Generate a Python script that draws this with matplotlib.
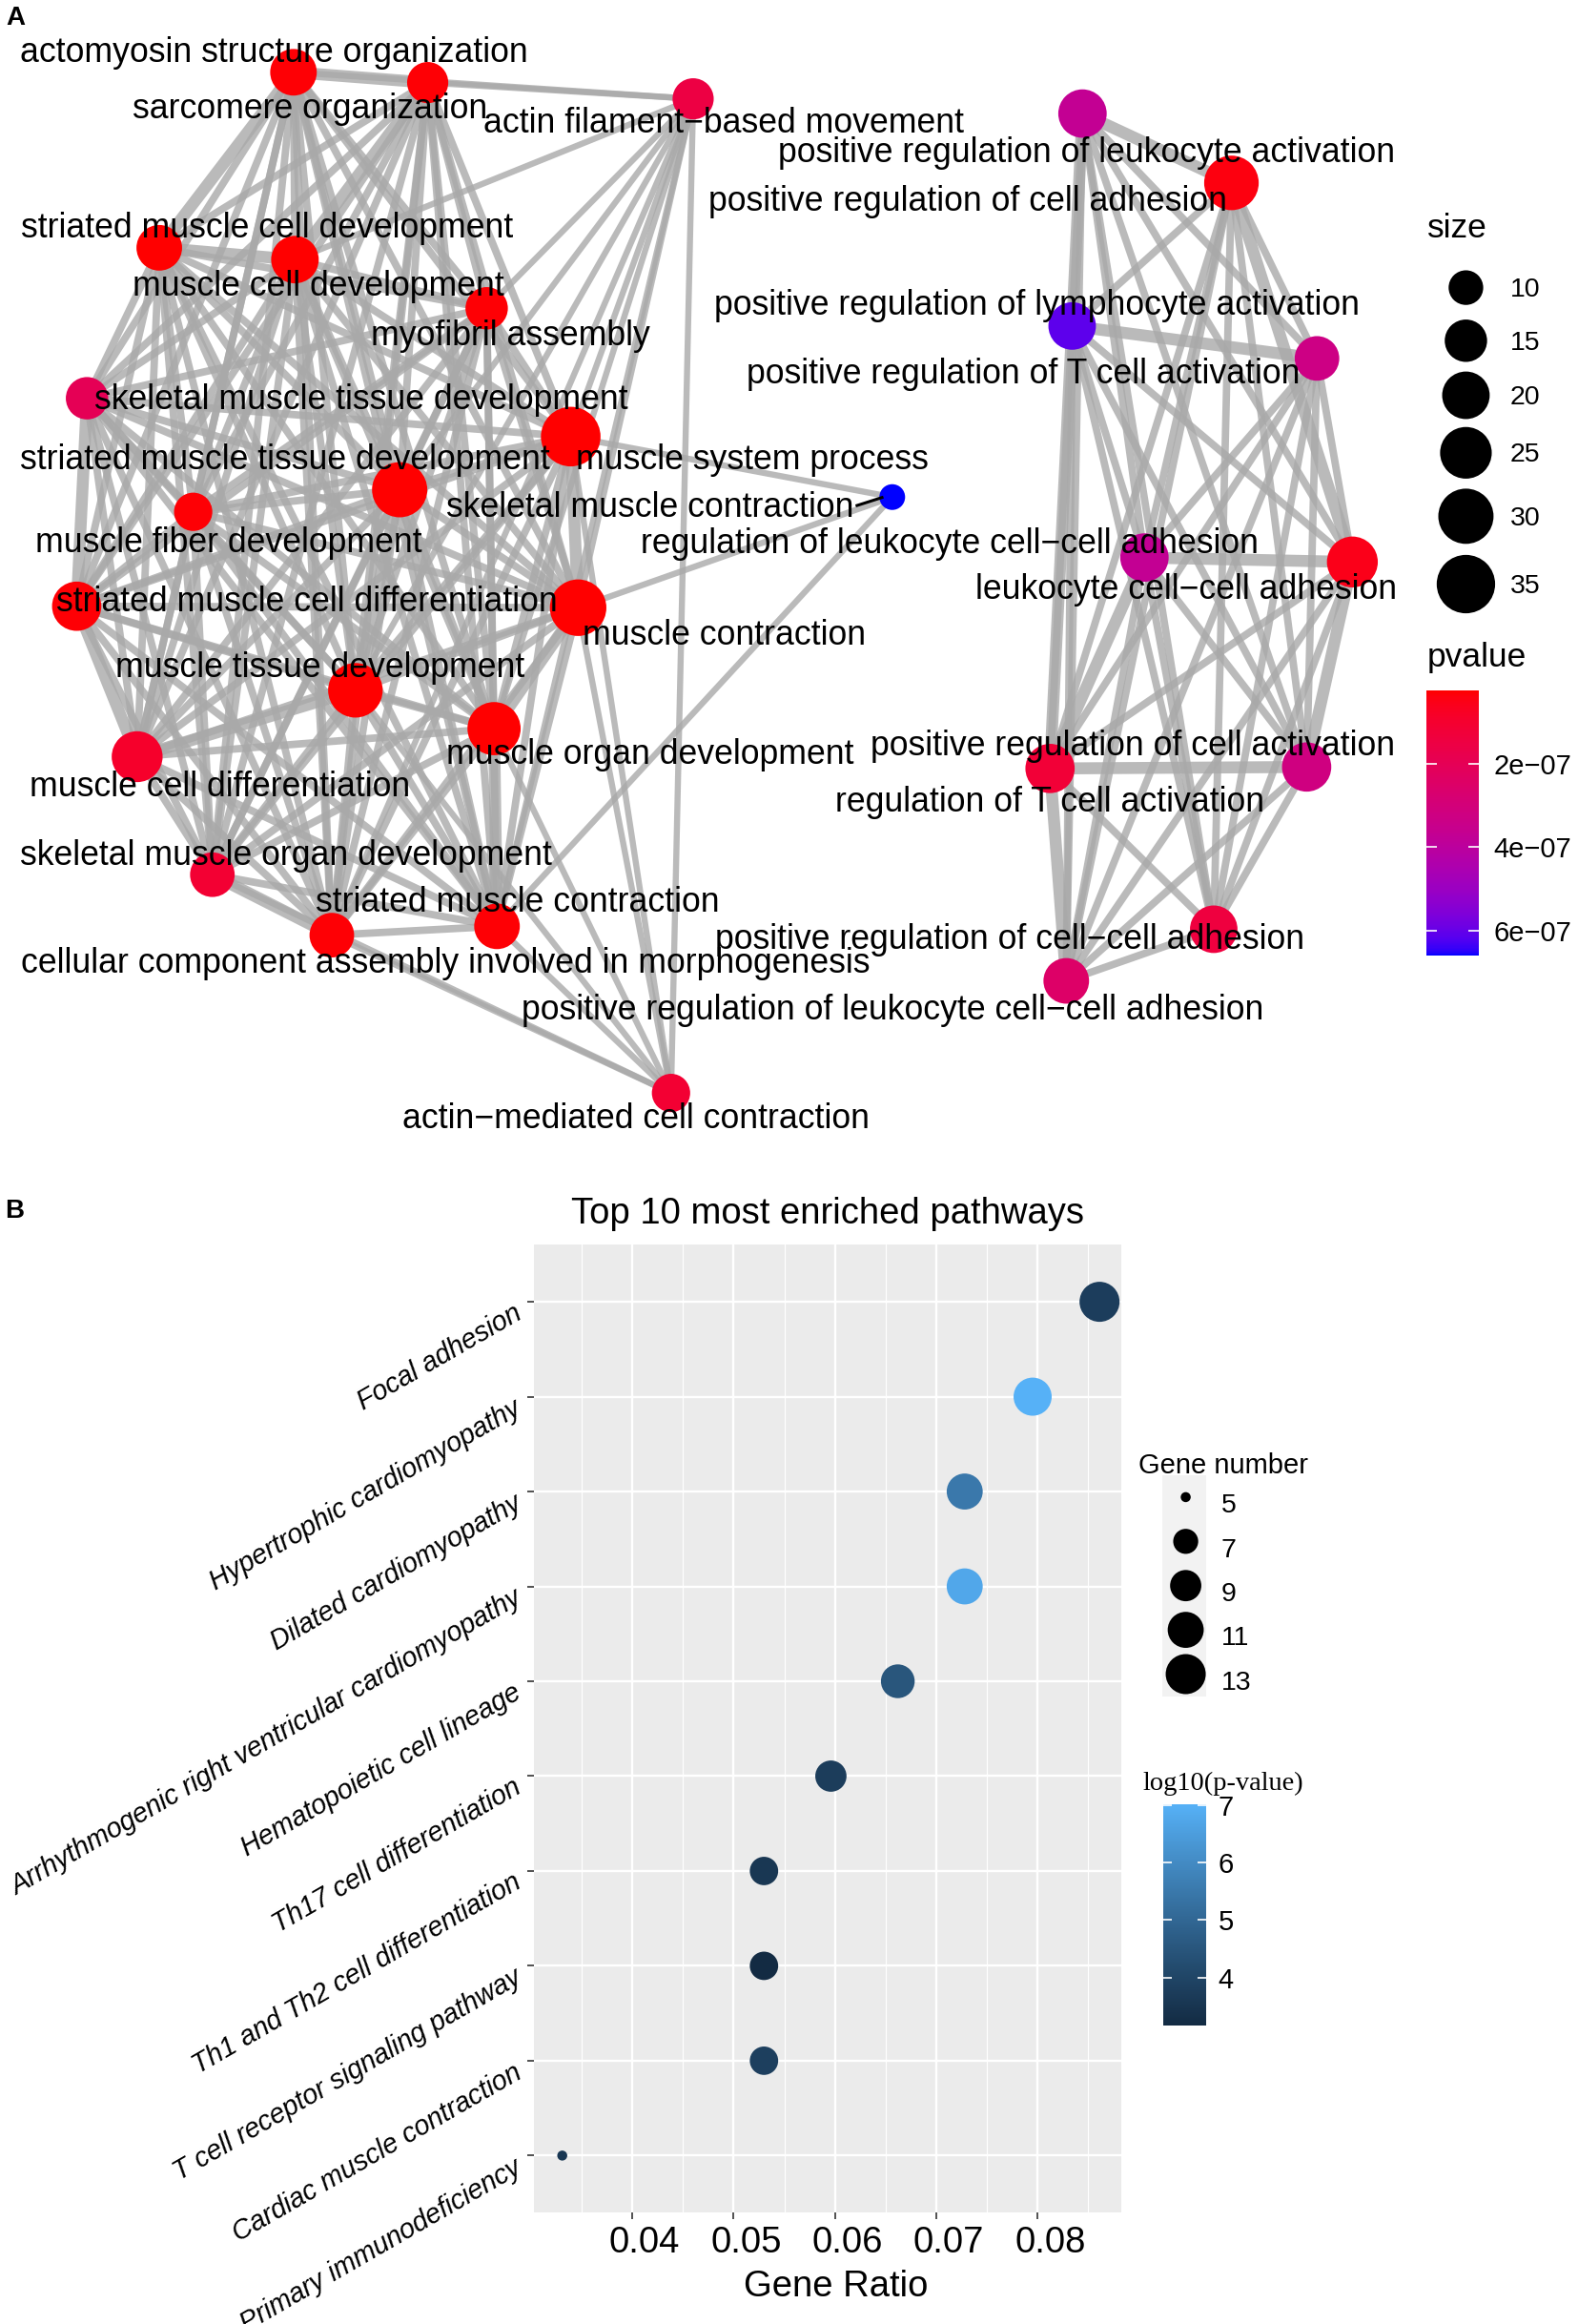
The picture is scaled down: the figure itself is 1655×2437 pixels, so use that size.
import numpy as np
import matplotlib
matplotlib.use("Agg")
import matplotlib.pyplot as plt
from matplotlib.colors import ListedColormap, Normalize
from matplotlib.cm import ScalarMappable
from matplotlib.collections import LineCollection
from matplotlib.patches import Rectangle
from matplotlib.ticker import MultipleLocator
from matplotlib.transforms import ScaledTranslation

plt.rcParams['font.family'] = ['Liberation Sans', 'DejaVu Sans']

# ---------------- Panel A data (enrichment map) ----------------
go_terms = [
    "actomyosin structure organization", "sarcomere organization",
    "actin filament\u2212based movement", "striated muscle cell development",
    "muscle cell development", "myofibril assembly",
    "skeletal muscle tissue development", "muscle system process",
    "striated muscle tissue development", "muscle fiber development",
    "skeletal muscle contraction", "striated muscle cell differentiation",
    "muscle contraction", "muscle tissue development",
    "muscle organ development", "muscle cell differentiation",
    "skeletal muscle organ development", "striated muscle contraction",
    "cellular component assembly involved in morphogenesis",
    "actin\u2212mediated cell contraction",
    "positive regulation of leukocyte activation",
    "positive regulation of cell adhesion",
    "positive regulation of lymphocyte activation",
    "positive regulation of T cell activation",
    "regulation of leukocyte cell\u2212cell adhesion",
    "leukocyte cell\u2212cell adhesion",
    "positive regulation of cell activation",
    "regulation of T cell activation",
    "positive regulation of cell\u2212cell adhesion",
    "positive regulation of leukocyte cell\u2212cell adhesion",
]
# layout coordinates of the nodes
node_x = [199, 290, 470, 108, 200, 330, 59, 387, 271, 131, 605, 52, 392, 241, 335,
          93, 144, 337, 225, 455, 734, 835, 727, 893, 776, 917, 886, 712, 823, 723]
node_y = [49, 56, 67, 168, 176, 209, 270, 296, 332, 347, 337, 411, 412, 468, 494,
          513, 593, 628, 634, 741, 77, 124, 221, 243, 378, 381, 520, 521, 630, 665]
gene_count = [19, 14, 14, 18, 20, 15, 15, 37, 30, 12, 8, 22, 32, 29, 27,
              24, 17, 18, 17, 12, 21, 29, 20, 17, 21, 24, 22, 22, 20, 18]
pvalues = [3e-8, 3e-8, 1.5e-7, 2.5e-8, 2.5e-8, 3e-8, 2e-7, 2.5e-8, 2.5e-8, 3e-8,
           6.6e-7, 3e-8, 2.5e-8, 2.5e-8, 2.5e-8, 9e-8, 1.1e-7, 3e-8, 3e-8, 1.1e-7,
           3.7e-7, 4e-8, 6.1e-7, 3.3e-7, 3.7e-7, 5.5e-8, 3.2e-7, 1.2e-7, 1.4e-7, 2.5e-7]
# repelled label positions
label_x = [186, 210, 491, 181, 216, 346, 245, 510, 193, 155, 441, 208, 491, 217, 441,
           149, 194, 351, 302, 431, 737, 656, 703, 694, 644, 804, 768, 712, 685, 605]
label_y = [36, 74, 84, 155, 194, 228, 271, 312, 312, 368, 344, 408, 431, 453, 512,
           534, 580, 612, 653, 759, 104, 137, 207, 254, 369, 400, 506, 544, 637, 685]
segment_terms = [10]   # labels connected to their node by a segment

adjacency = [
    "0: 1 2 3 4 5 6 7 8 9 11 12 13 14 15 16 17 18",
    "1: 2 3 4 5 6 7 8 9 11 12 13 14 15 16 17 18",
    "2: 4 5 7 8 12 13 14 17 18 19",
    "3: 4 5 6 7 8 9 11 12 13 14 15 16 17 18",
    "4: 5 6 7 8 9 11 12 13 14 15 16 17 18",
    "5: 6 7 8 9 11 12 13 14 15 16 17 18",
    "6: 7 8 9 11 12 13 14 15 16 17 18",
    "7: 8 9 10 11 12 13 14 15 16 17 18 19",
    "8: 9 11 12 13 14 15 16 17 18",
    "9: 11 12 13 14 15 16 17 18",
    "10: 12 17",
    "11: 12 13 14 15 16 17 18",
    "12: 13 14 15 16 17 18 19",
    "13: 14 15 16 17 18 19",
    "14: 15 16 17 18 19",
    "15: 16 17 18",
    "16: 17 18 19",
    "17: 18 19",
    "18: 19",
    "20: 21 22 23 24 25 26 27 28 29",
    "21: 22 23 24 25 26 27 28 29",
    "22: 23 24 25 26 27 28 29",
    "23: 24 25 26 27 28 29",
    "24: 25 26 27 28 29",
    "25: 26 27 28 29",
    "26: 27 28 29",
    "27: 28 29",
    "28: 29",
]
strong_edges = [(0, 1), (3, 4), (0, 3), (1, 4), (6, 11), (11, 15), (13, 15), (8, 13),
                (7, 12), (12, 14), (14, 17), (16, 18), (20, 22), (22, 27), (27, 29),
                (20, 21), (24, 25), (26, 27), (22, 23), (21, 25), (25, 26), (24, 27)]
weak_nodes = [2, 10, 19]

size_breaks = [10, 15, 20, 25, 30, 35]
pvalue_ticks = [2e-7, 4e-7, 6e-7]

# ---------------- Panel B data (KEGG dot plot) ----------------
pathways = ["Focal adhesion", "Hypertrophic cardiomyopathy", "Dilated cardiomyopathy",
            "Arrhythmogenic right ventricular cardiomyopathy", "Hematopoietic cell lineage",
            "Th17 cell differentiation", "Th1 and Th2 cell differentiation",
            "T cell receptor signaling pathway", "Cardiac muscle contraction",
            "Primary immunodeficiency"]
gene_ratio = [0.0861, 0.0795, 0.0728, 0.0728, 0.0662, 0.0596, 0.0530, 0.0530, 0.0530, 0.0331]
gene_number = [13, 12, 11, 11, 10, 9, 8, 8, 8, 5]
neglog_p = [3.76, 7.02, 5.5, 6.75, 4.5, 3.75, 3.56, 3.17, 3.83, 3.55]
ratio_ticks = [0.04, 0.05, 0.06, 0.07, 0.08]
gene_number_breaks = [5, 7, 9, 11, 13]
logp_ticks = [4, 5, 6, 7]

# ---------------- helpers ----------------
_M = np.array([[0.4124564, 0.3575761, 0.1804375],
               [0.2126729, 0.7151522, 0.0721750],
               [0.0193339, 0.1191920, 0.9503041]])
_WP = np.array([0.95047, 1.0, 1.08883])


def hex_to_lab(h):
    c = np.array([int(h[i:i + 2], 16) / 255 for i in (1, 3, 5)])
    lin = np.where(c <= 0.04045, c / 12.92, ((c + 0.055) / 1.055) ** 2.4)
    r = (_M @ lin) / _WP
    d = 6 / 29
    f = np.where(r > d ** 3, np.cbrt(r), r / (3 * d * d) + 4 / 29)
    return np.array([116 * f[1] - 16, 500 * (f[0] - f[1]), 200 * (f[1] - f[2])])


def lab_to_rgb(lab):
    L, a, b = lab
    fy = (L + 16) / 116
    f = np.array([fy + a / 500, fy, fy - b / 200])
    d = 6 / 29
    r = np.where(f > d, f ** 3, 3 * d * d * (f - 4 / 29))
    lin = np.clip(np.linalg.inv(_M) @ (r * _WP), 0, 1)
    c = np.where(lin <= 0.0031308, 12.92 * lin, 1.055 * lin ** (1 / 2.4) - 0.055)
    return np.clip(c, 0, 1)


def lab_cmap(lo, hi, n=256):
    a, b = hex_to_lab(lo), hex_to_lab(hi)
    return ListedColormap([lab_to_rgb(a + (b - a) * t) for t in np.linspace(0, 1, n)])


cmap_a = lab_cmap("#FF0000", "#0000FF")
norm_a = Normalize(min(pvalues), max(pvalues))
cmap_b = lab_cmap("#132B43", "#56B1F7")
norm_b = Normalize(3.17, 7.02)

PT = 0.72  # points per pixel at dpi 100


def size_a(v):
    lo, hi = min(gene_count), max(gene_count)
    d = 27 + 35.5 * np.sqrt((np.asarray(v, float) - lo) / (hi - lo))
    return (d * PT) ** 2


def size_b(v):
    lo, hi = min(gene_number), max(gene_number)
    d = 10.5 + 31.5 * np.sqrt((np.asarray(v, float) - lo) / (hi - lo))
    return (d * PT) ** 2


# ---------------- figure ----------------
fig = plt.figure(figsize=(16.55, 24.37), dpi=100)
DW, DH = 1070.0, 1575.6


def fbox(x0, y0, x1, y1):
    return [x0 / DW, 1 - y1 / DH, (x1 - x0) / DW, (y1 - y0) / DH]


ov = fig.add_axes([0, 0, 1, 1])
ov.set_xlim(0, DW)
ov.set_ylim(DH, 0)
ov.axis('off')

# edges
segs, widths = [], []
for line in adjacency:
    src, rest = line.split(':')
    i = int(src)
    for tok in rest.split():
        j = int(tok)
        segs.append([(node_x[i], node_y[i]), (node_x[j], node_y[j])])
        if (i, j) in strong_edges:
            widths.append(9.0)
        elif i in weak_nodes or j in weak_nodes:
            widths.append(4.6)
        else:
            widths.append(5.6)
ov.add_collection(LineCollection(segs, colors='#A9A9A9', alpha=0.8,
                                 linewidths=widths, zorder=1, capstyle='butt'))

ov.scatter(node_x, node_y, s=size_a(gene_count), c=pvalues, cmap=cmap_a, norm=norm_a,
           linewidths=0, zorder=2)

texts = []
for k, term in enumerate(go_terms):
    texts.append(ov.text(label_x[k], label_y[k], term, ha='center', va='center',
                         fontsize=25.7, color='black', zorder=3))

fig.canvas.draw()
rend = fig.canvas.get_renderer()
inv = ov.transData.inverted()
for k in segment_terms:
    bb = texts[k].get_window_extent(rend)
    xe, _ = inv.transform((bb.x1, bb.y0))
    ov.plot([xe + 1, node_x[k] - 6], [label_y[k] - 1, node_y[k]], color='black',
            lw=2.2, zorder=3, solid_capstyle='butt')

# size legend (panel A)
ov.text(968, 155, "size", fontsize=25.5, ha='left', va='center')
size_leg_y = [195, 231, 268, 307, 350, 396]
ov.scatter([994] * len(size_breaks), size_leg_y, s=size_a(size_breaks), c='black',
           linewidths=0)
for yv, b in zip(size_leg_y, size_breaks):
    ov.text(1024, yv + 1.5, str(b), fontsize=20.5, ha='left', va='center')

ov.text(968, 446, "pvalue", fontsize=25.5, ha='left', va='center')
cax_a = fig.add_axes(fbox(967, 468, 1003, 648))
cb_a = fig.colorbar(ScalarMappable(norm=norm_a, cmap=cmap_a), cax=cax_a)
cb_a.outline.set_visible(False)
cax_a.invert_yaxis()
cb_a.set_ticks(pvalue_ticks)
cb_a.set_ticklabels([f"{v:.0e}".replace('-', '\u2212') for v in pvalue_ticks])
cax_a.tick_params(axis='y', direction='in', left=True, right=True, length=8, width=1.2,
                  color='white', labelcolor='black', labelsize=21, pad=11)
cax_a.minorticks_off()

# panel letters
ov.text(4, 12.5, "A", fontsize=20, fontweight='bold', ha='left', va='center')
ov.text(3, 821, "B", fontsize=20, fontweight='bold', ha='left', va='center')

# ---------------- Panel B ----------------
ax = fig.add_axes(fbox(362, 844, 760, 1500))
ax.set_facecolor('#EBEBEB')
ypos = np.arange(len(pathways), 0, -1)
ax.scatter(gene_ratio, ypos, s=size_b(gene_number), c=neglog_p, cmap=cmap_b, norm=norm_b,
           linewidths=0, zorder=3)
ax.set_xlim(0.0303, 0.0882)
ax.set_ylim(0.4, len(pathways) + 0.6)
ax.set_xticks(ratio_ticks)
ax.set_xticklabels([f"{t:.2f}" for t in ratio_ticks], fontsize=27.5)
ax.xaxis.set_minor_locator(MultipleLocator(0.005))
ax.set_yticks(ypos)
ax.set_yticklabels(pathways, fontsize=20.6, fontstyle='italic', rotation=30,
                   ha='right', va='top', rotation_mode='anchor')
ax.grid(which='major', color='white', lw=1.7)
ax.grid(which='minor', axis='x', color='white', lw=0.85)
ax.set_axisbelow(True)
for s in ax.spines.values():
    s.set_visible(False)
ax.tick_params(axis='x', which='major', length=5, width=1.2, color='#333333', pad=5)
ax.tick_params(axis='y', which='major', length=5, width=1.2, color='#333333', pad=11)
ax.tick_params(which='minor', length=0)
shift = ScaledTranslation(0.13, 0, fig.dpi_scale_trans)
for lab in ax.get_xticklabels():
    lab.set_transform(lab.get_transform() + shift)
yshift = ScaledTranslation(0, 0.02, fig.dpi_scale_trans)
for lab in ax.get_yticklabels():
    lab.set_transform(lab.get_transform() + yshift)
ax.set_xlabel("Gene Ratio", fontsize=27.5, labelpad=7)
ax.xaxis.label.set_transform(ax.xaxis.label.get_transform()
                             + ScaledTranslation(0.09, 0, fig.dpi_scale_trans))
ax.set_title("Top 10 most enriched pathways", fontsize=27.5, pad=16)

# Gene number legend
ov.text(772, 994, "Gene number", fontsize=21, ha='left', va='center')
ov.add_patch(Rectangle((788, 1000), 30, 150, facecolor='#F2F2F2', edgecolor='none'))
gn_leg_y = [1015, 1045, 1075, 1105, 1135]
ov.scatter([804] * len(gene_number_breaks), gn_leg_y, s=size_b(gene_number_breaks),
           c='black', linewidths=0, zorder=3)
for yv, b in zip(gn_leg_y, gene_number_breaks):
    ov.text(828, yv + 6, str(b), fontsize=20.5, ha='left', va='center')

# log10(p-value) colorbar
ov.text(775, 1209, "log10(p-value)", fontsize=20.5, ha='left', va='center',
        family=['Liberation Serif', 'DejaVu Serif'])
cax_b = fig.add_axes(fbox(789, 1223, 818, 1373))
cb_b = fig.colorbar(ScalarMappable(norm=norm_b, cmap=cmap_b), cax=cax_b)
cb_b.outline.set_visible(False)
cb_b.set_ticks(logp_ticks)
cb_b.set_ticklabels([str(t) for t in logp_ticks])
cax_b.tick_params(axis='y', direction='in', left=True, right=True, length=6.5, width=1.2,
                  color='white', labelcolor='black', labelsize=21, pad=9)
cax_b.minorticks_off()

fig.savefig("out.png", dpi=100)
